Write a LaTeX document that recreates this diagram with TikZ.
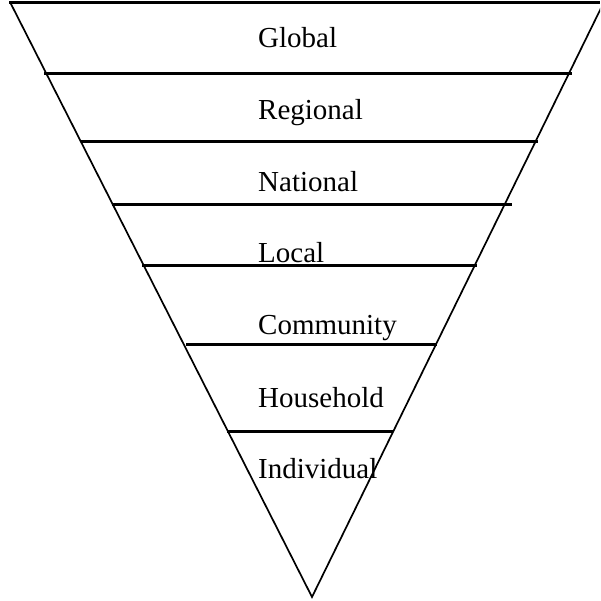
\documentclass[tikz,border=0pt]{standalone}
\usepackage{fontspec}
\setmainfont{Liberation Serif}
\begin{document}
\begin{tikzpicture}[x=1pt,y=1pt,
  side/.style={line width=1.7pt},
  band/.style={line width=3pt},
  lvl/.style={anchor=base west,inner sep=0pt,font=\fontsize{29}{34}\selectfont}]
\useasboundingbox (0,0) rectangle (600,601);
\clip (0,0) rectangle (600,601);
% triangle vertices
\coordinate (tip) at (312,4);
\coordinate (tl) at (10,599);
\coordinate (tr) at (604,599);
\draw[side] (tl) -- (tip) -- (tr);
% band lines
\coordinate (b1l) at (9,598);   \coordinate (b1r) at (600,598);
\coordinate (b2l) at (44,527);  \coordinate (b2r) at (572,527);
\coordinate (b3l) at (81,459);  \coordinate (b3r) at (538,459);
\coordinate (b4l) at (112,396); \coordinate (b4r) at (512,396);
\coordinate (b5l) at (142,335); \coordinate (b5r) at (477,335);
\coordinate (b6l) at (186,256); \coordinate (b6r) at (437,256);
\coordinate (b7l) at (227,169); \coordinate (b7r) at (393,169);
\foreach \i in {1,...,7} \draw[band] (b\i l) -- (b\i r);
% labels
\node[lvl] (global) at (258,553) {Global};
\node[lvl] (regional) at (258,481) {Regional};
\node[lvl] (national) at (258,409) {National};
\node[lvl] (local) at (258,338) {Local};
\node[lvl] (community) at (258,266) {Community};
\node[lvl] (household) at (258,193) {Household};
\node[lvl] (individual) at (258,122) {Individual};
\end{tikzpicture}
\end{document}
